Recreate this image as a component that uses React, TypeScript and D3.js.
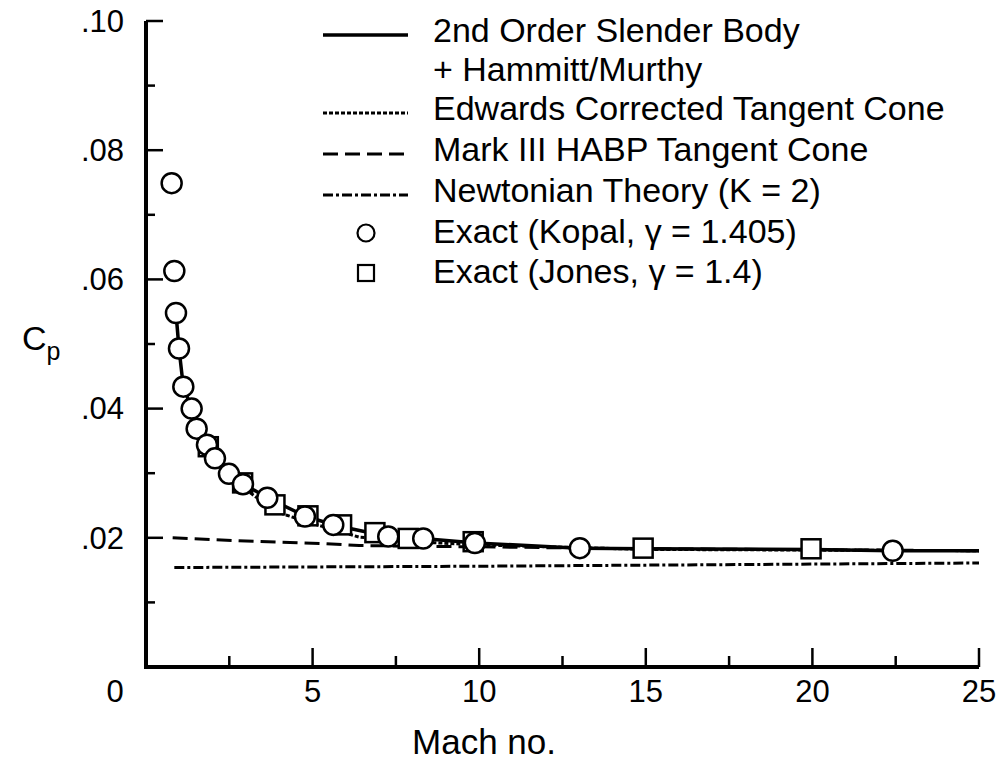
import React, { useEffect, useRef } from "react";
import * as d3 from "d3";

// [Mach, Cp]
const kopal = [
  [0.77, 0.0749], [0.85, 0.0613], [0.9, 0.0548], [0.99, 0.0493], [1.12, 0.0434],
  [1.37, 0.04], [1.52, 0.0369], [1.83, 0.0344], [2.07, 0.0323], [2.49, 0.0299],
  [2.91, 0.0283], [3.64, 0.0262], [4.77, 0.0233], [5.62, 0.022], [7.27, 0.0202],
  [8.32, 0.0199], [9.87, 0.0192], [13.02, 0.0184], [22.41, 0.018],
];
const jones = [
  [1.87, 0.0341], [2.9, 0.0285], [3.87, 0.0251], [4.86, 0.0234], [5.87, 0.022],
  [6.87, 0.0208], [7.87, 0.0199], [9.82, 0.0194], [14.92, 0.0184], [19.96, 0.0183],
];
const slenderBody = [
  [0.9, 0.0548], [0.99, 0.0493], [1.12, 0.0434], [1.37, 0.04], [1.52, 0.0369],
  [1.85, 0.0343], [2.07, 0.0323], [2.49, 0.0299], [2.9, 0.0284], [3.64, 0.0262],
  [4.8, 0.0233], [5.7, 0.0219], [6.9, 0.0206], [8.3, 0.0199], [9.9, 0.0192],
  [13, 0.0184], [15, 0.0183], [20, 0.0182], [22.4, 0.018], [25, 0.018],
];
const edwards = [
  [1.9, 0.0336], [2.5, 0.0294], [3.3, 0.0263], [4.1, 0.0237], [5, 0.0222],
  [6.4, 0.0201], [8, 0.0194], [10, 0.0189], [15, 0.0182], [20, 0.0181], [25, 0.018],
];
const markIII = [
  [0.8, 0.02], [3, 0.0195], [5.4, 0.0191], [6.4, 0.0188], [8, 0.0187],
  [10, 0.0186], [15, 0.0183], [25, 0.018],
];
const newtonian = [[0.85, 0.0154], [10, 0.0156], [25, 0.0161]];

const xTicks = [0, 5, 10, 15, 20, 25];
const xMinor = [2.5, 7.5, 12.5, 17.5, 22.5];
const yTicks = [0.02, 0.04, 0.06, 0.08, 0.1];
const yMinor = [0.01, 0.03, 0.05, 0.07, 0.09];
const yTickLabels = [".02", ".04", ".06", ".08", ".10"];

const legendLabels = [
  "2nd Order Slender Body",
  "+ Hammitt/Murthy",
  "Edwards Corrected Tangent Cone",
  "Mark III HABP Tangent Cone",
  "Newtonian Theory (K = 2)",
  "Exact (Kopal, \u03b3 = 1.405)",
  "Exact (Jones, \u03b3 = 1.4)",
];

const W = 1001, H = 766;
const FONT = "'Liberation Sans', Arial, Helvetica, sans-serif";

export default function App() {
  const ref = useRef<SVGSVGElement>(null);

  useEffect(() => {
    const svg = d3.select(ref.current);
    svg.selectAll("*").remove();

    const x = d3.scaleLinear().domain([0, 25]).range([146, 979]);
    const y = d3.scaleLinear().domain([0, 0.1]).range([667, 21]);

    svg.append("rect").attr("width", W).attr("height", H).attr("fill", "#fff");

    // axes
    svg.append("path")
      .attr("d", `M${x(0)},${y(0.1)}V${y(0)}H${x(25)}`)
      .attr("fill", "none")
      .attr("stroke", "#000")
      .attr("stroke-width", 4);

    yTicks.forEach((t) => {
      svg.append("line")
        .attr("x1", x(0)).attr("x2", x(0) + 17)
        .attr("y1", y(t)).attr("y2", y(t))
        .attr("stroke", "#000").attr("stroke-width", 2.5);
    });
    yMinor.forEach((t) => {
      svg.append("line")
        .attr("x1", x(0)).attr("x2", x(0) + 9)
        .attr("y1", y(t)).attr("y2", y(t))
        .attr("stroke", "#000").attr("stroke-width", 2.5);
    });
    xTicks.slice(1).forEach((t) => {
      svg.append("line")
        .attr("x1", x(t)).attr("x2", x(t))
        .attr("y1", y(0)).attr("y2", y(0) - 19)
        .attr("stroke", "#000").attr("stroke-width", 2.5);
    });
    xMinor.forEach((t) => {
      svg.append("line")
        .attr("x1", x(t)).attr("x2", x(t))
        .attr("y1", y(0)).attr("y2", y(0) - 11)
        .attr("stroke", "#000").attr("stroke-width", 2.5);
    });

    // tick labels
    yTicks.forEach((t, i) => {
      svg.append("text")
        .attr("x", 124).attr("y", y(t))
        .attr("dy", "0.35em")
        .attr("text-anchor", "end")
        .style("font-family", FONT).style("font-size", "31px")
        .text(yTickLabels[i]);
    });
    xTicks.forEach((t) => {
      svg.append("text")
        .attr("x", t === 0 ? 115 : x(t)).attr("y", 691)
        .attr("dy", "0.35em")
        .attr("text-anchor", "middle")
        .style("font-family", FONT).style("font-size", "31px")
        .text(String(t));
    });

    // axis titles
    svg.append("text")
      .attr("x", 484).attr("y", 742).attr("dy", "0.35em")
      .attr("text-anchor", "middle")
      .style("font-family", FONT).style("font-size", "35px")
      .text("Mach no.");
    const cp = svg.append("text")
      .attr("x", 22).attr("y", 350)
      .style("font-family", FONT).style("font-size", "34px");
    cp.append("tspan").text("C");
    cp.append("tspan").attr("dy", 10).style("font-size", "25px").text("p");

    const line = d3.line<number[]>()
      .x((d) => x(d[0]))
      .y((d) => y(d[1]));

    const series = [
      { data: newtonian, dash: "10,3,3,3", width: 3 },
      { data: markIII, dash: "15,7", width: 3 },
      { data: edwards, dash: "4,2", width: 3 },
      { data: slenderBody, dash: null, width: 3.5 },
    ];
    series.forEach((s) => {
      svg.append("path")
        .datum(s.data)
        .attr("d", line)
        .attr("fill", "none")
        .attr("stroke", "#000")
        .attr("stroke-width", s.width)
        .attr("stroke-dasharray", s.dash);
    });

    // symbols
    svg.append("g")
      .selectAll("rect")
      .data(jones)
      .enter()
      .append("rect")
      .attr("x", (d) => x(d[0]) - 9.5)
      .attr("y", (d) => y(d[1]) - 9.5)
      .attr("width", 19).attr("height", 19)
      .attr("fill", "#fff").attr("stroke", "#000").attr("stroke-width", 2.5);
    svg.append("g")
      .selectAll("circle")
      .data(kopal)
      .enter()
      .append("circle")
      .attr("cx", (d) => x(d[0]))
      .attr("cy", (d) => y(d[1]))
      .attr("r", 10)
      .attr("fill", "#fff").attr("stroke", "#000").attr("stroke-width", 2.5);

    // legend
    const rowY = [30, 69, 108, 149, 190, 231, 271];
    const lx0 = 323, lx1 = 408;
    legendLabels.forEach((label, i) => {
      svg.append("text")
        .attr("x", 433).attr("y", rowY[i])
        .attr("dy", "0.35em")
        .style("font-family", FONT).style("font-size", "34px")
        .text(label);
    });
    [0, 2, 3, 4].forEach((row, i) => {
      const s = series[3 - i];
      svg.append("line")
        .attr("x1", lx0).attr("x2", lx1)
        .attr("y1", rowY[row] + 5).attr("y2", rowY[row] + 5)
        .attr("stroke", "#000")
        .attr("stroke-width", s.width)
        .attr("stroke-dasharray", s.dash);
    });
    svg.append("circle")
      .attr("cx", 366).attr("cy", rowY[5] + 2).attr("r", 8.5)
      .attr("fill", "#fff").attr("stroke", "#000").attr("stroke-width", 2.2);
    svg.append("rect")
      .attr("x", 358).attr("y", rowY[6] - 6).attr("width", 16).attr("height", 16)
      .attr("fill", "#fff").attr("stroke", "#000").attr("stroke-width", 2.2);
  }, []);

  return (
    <svg
      ref={ref}
      width={W}
      height={H}
      style={{ position: "absolute", left: 0, top: 0, display: "block" }}
    />
  );
}
